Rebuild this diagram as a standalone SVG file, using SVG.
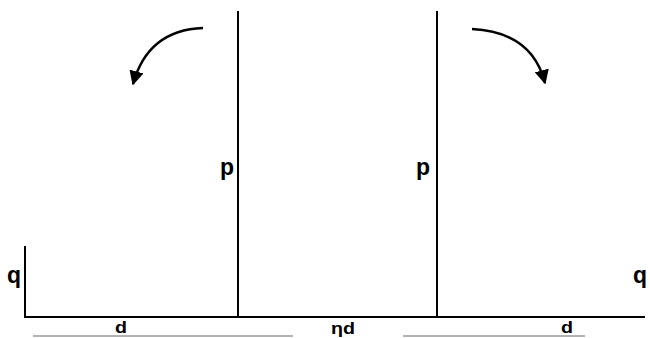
<svg xmlns="http://www.w3.org/2000/svg" width="650" height="338" viewBox="0 0 650 338">
<style>
.ln{stroke:#000;stroke-width:2;fill:none}
.arc{stroke:#000;stroke-width:2.4;fill:none}
.gr{stroke:#999;stroke-width:1.5;fill:none}
.lbl{font-family:"Liberation Sans",Arial,sans-serif;font-weight:bold;font-size:23px;fill:#000}
.dim{font-family:"Liberation Sans",Arial,sans-serif;font-weight:bold;font-size:16px;fill:#000}
</style>
<defs>
<marker id="ah" viewBox="0 0 10 10" refX="9" refY="5" markerWidth="6" markerHeight="6" orient="auto" markerUnits="strokeWidth">
<path d="M0,0 L10,5 L0,10 Z" fill="#000"/>
</marker>
</defs>
<rect width="650" height="338" fill="#fff"/>
<g id="frame">
<line class="ln" x1="25" y1="246" x2="25" y2="318"/>
<line class="ln" x1="24" y1="317" x2="645" y2="317"/>
<line class="ln" x1="238" y1="11" x2="238" y2="317"/>
<line class="ln" x1="437" y1="11" x2="437" y2="317"/>
<line class="gr" x1="33" y1="336" x2="293" y2="336"/>
<line class="gr" x1="403" y1="336" x2="585" y2="336"/>
</g>
<g id="connectors">
<path class="arc" d="M203,28 Q148,30 133,84" marker-end="url(#ah)"/>
<path class="arc" d="M472,29 Q532,32 545,83" marker-end="url(#ah)"/>
</g>
<g id="labels">
<text class="lbl" x="7" y="283">q</text>
<text class="lbl" x="220" y="175">p</text>
<text class="lbl" x="416" y="175">p</text>
<text class="lbl" x="633" y="283">q</text>
<text class="dim" x="115" y="333" textLength="12" lengthAdjust="spacingAndGlyphs">d</text>
<text class="dim" x="331" y="334" textLength="24" lengthAdjust="spacingAndGlyphs">ηd</text>
<text class="dim" x="561" y="333" textLength="12" lengthAdjust="spacingAndGlyphs">d</text>
</g>
</svg>
